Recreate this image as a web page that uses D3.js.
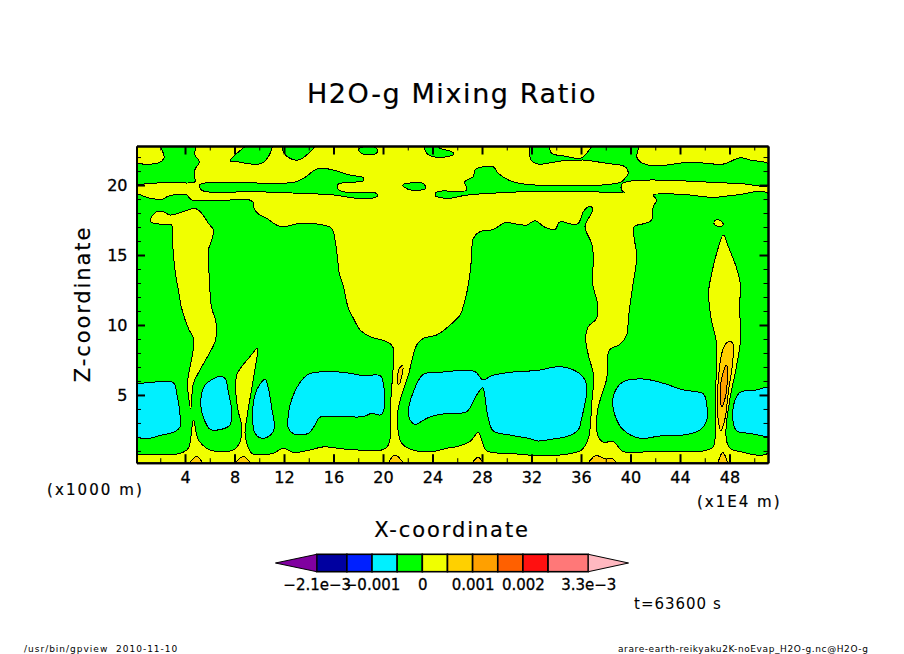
<!DOCTYPE html>
<html>
<head>
<meta charset="utf-8">
<title>H2O-g Mixing Ratio</title>
<script src="https://cdn.jsdelivr.net/npm/d3@7"></script>
<style>
body { margin: 0; background: #fff; }
svg { display: block; }
text { font-family: "DejaVu Sans", sans-serif; fill: #000; }
</style>
</head>
<body>
<script>
var w = 904;
var h = 654;

// contour levels of the colour bar and the colour of each band
var levels = [-2.1e-3, -1.5e-3, -1e-3, -5e-4, 0, 5e-4, 1e-3, 1.5e-3, 2e-3, 2.5e-3, 3.3e-3];
var bandColors = ["#8000a0", "#0000a0", "#0020ff", "#00f0ff", "#00ff00", "#f0ff00", "#ffd000", "#ffa000", "#ff6000", "#ff1010", "#ff7878", "#ffb8c0"];
var legendTips = [-2.92e-3, 4.1e-3];
var legendTicks = [-2.1e-3, -1e-3, 0, 1e-3, 2e-3, 3.3e-3];
var legendLabels = ["\u22122.1e\u22123", "\u22120.001", "0", "0.001", "0.002", "3.3e\u22123"];

var xDomain = [0.08, 51.11];
var zDomain = [0.16, 22.79];
var xMajor = [4, 8, 12, 16, 20, 24, 28, 32, 36, 40, 44, 48];
var xMinor = [2, 6, 10, 14, 18, 22, 26, 30, 34, 38, 42, 46, 50];
var zMajor = [5, 10, 15, 20];
var zMinor = [1, 2, 3, 4, 6, 7, 8, 9, 11, 12, 13, 14, 16, 17, 18, 19, 21, 22];

// band values
var yellowValue = 2.5e-4;
var greenValue = -2.5e-4;
var cyanValue = -7.5e-4;
var goldValue = 7.5e-4;
var orangeValue = 1.25e-3;

// contours as [x, z]
var greenTopLeft = [[1.98,23],[2.25,22.26],[2.3,21.9],[1.85,21.59],[0.9,21.48],[-0.2,21.48],[-0.2,20.07],[0.9,20.1],[2.65,20.19],[4.81,20.24],[4.73,20.71],[4.81,21.12],[5.16,21.67],[4.81,22.14],[4.76,23]];
var greenLeft = [[-0.2,19.28],[1.17,19.05],[2.12,18.98],[2.65,19.21],[3.6,19.33],[4.14,19.29],[4.54,18.93],[5.48,18.93],[7.64,18.93],[8.98,18.98],[9.47,18.81],[9.58,18.33],[9.93,17.93],[10.6,17.62],[11.41,17.14],[11.95,17.02],[13.3,17.26],[14.91,17.19],[15.86,16.9],[16.12,16.07],[16.31,14.88],[16.47,13.69],[16.8,12.74],[17.2,11.19],[17.61,10.48],[18.15,9.64],[18.95,9.17],[20.3,8.81],[20.79,8.45],[20.84,7.38],[20.7,5.48],[20.57,3.81],[20.57,1.9],[20.35,1.31],[19.9,1.07],[18.41,1.05],[16.8,1.14],[15.18,1.29],[14.1,1.07],[12.76,0.9],[11.95,1.19],[11.14,0.83],[10.2,0.71],[9.39,0.83],[9.04,1.43],[8.85,2.26],[8.99,3.33],[9.66,6.9],[9.85,8.33],[9.25,7.74],[8.58,7.02],[8.18,6.43],[8.12,5],[8.31,3.81],[8.58,2.74],[8.45,1.67],[7.91,1.07],[6.29,1],[5.75,1.19],[5.08,1.79],[4.68,3.21],[4.46,1.9],[4.27,1.19],[3.6,0.83],[1.17,0.76],[-0.2,0.95]];
var greenMiddle = [[26.44,11.19],[26.76,12.26],[27.03,13.69],[27.16,14.88],[27.3,16.19],[27.84,16.67],[28.91,16.83],[29.86,17.31],[30.93,17.19],[31.61,17.14],[32.28,17.45],[33.09,16.98],[33.9,16.83],[34.3,17.38],[35.24,17.21],[35.78,17.26],[36.19,18.1],[36.73,18.5],[36.94,18.21],[36.32,17.02],[36.86,15.83],[37,14.88],[36.94,12.98],[37.27,11.78],[37.35,11.43],[37.27,10.48],[36.59,9.88],[36.38,9.05],[36.59,7.86],[37,6.43],[36.86,4.29],[36.73,2.62],[36.59,1.9],[36.05,1.07],[34.3,0.71],[32.41,0.67],[30.26,0.83],[28.37,1.02],[27.7,2.31],[27.03,1.67],[25.95,1.31],[25.15,1.19],[23.94,0.95],[22.46,1.05],[21.51,1.55],[21.19,2.62],[21.19,3.81],[21.51,5],[22.05,6.43],[22.72,8.57],[23.26,9.05],[24.34,9.29],[25.42,10],[26.23,10.71]];
var greenRight = [[39.96,11.43],[40.17,12.74],[40.5,14.88],[40.28,16.31],[40.28,17.02],[41.17,17.26],[41.71,17.5],[41.84,18.45],[42.11,18.93],[41.84,19.28],[44.27,19.33],[46.69,19.12],[48.58,19.29],[51.3,19.29],[51.3,0.95],[48.85,0.95],[48.04,1.19],[47.77,1.67],[47.72,2.62],[48.04,4.76],[48.53,6.91],[48.9,9.05],[48.8,11.43],[48.9,12.74],[48.58,14.04],[47.91,15.59],[47.5,16.43],[46.96,15.12],[46.56,13.69],[46.29,12.26],[46.37,11.43],[46.56,10.24],[46.91,8.93],[46.96,7.38],[46.83,4.29],[46.83,1.9],[46.69,1.31],[46.02,1.02],[44.27,0.95],[41.58,0.95],[39.42,0.95],[38.61,1.67],[37.81,1.62],[37.4,2.02],[37.32,3.81],[38.08,6.19],[38.29,8.21],[39.15,8.62],[39.69,9.29],[39.83,10.48]];
var greenBand = [[5.16,20],[5.75,20.17],[7.64,20.19],[12.76,20.19],[13.57,20.48],[14.78,21.19],[16,21.07],[17.34,20.71],[18.41,20.52],[18.41,20.31],[16.39,20.07],[16.31,19.76],[16.8,19.52],[19.49,19.4],[19.55,19.21],[19.09,19.05],[17.88,19.05],[16,19.29],[13.57,19.4],[12.08,19.45],[9.79,19.52],[5.75,19.52],[5.35,19.64]];
var greenTop1 = [[7.64,21.74],[8.18,22.26],[9.39,23],[11.01,23],[10.74,22.02],[10.2,21.55],[9.39,21.5],[8.18,21.67]];
var greenTop2 = [[11.9,23],[11.95,22.38],[12.49,21.9],[13.16,21.79],[13.97,22.26],[14.59,23]];
var greenTop3 = [[18.01,22.5],[18.41,22.74],[19.22,22.74],[19.57,22.5],[19.36,22.21],[18.41,22.21]];
var greenTop4 = [[23.35,23],[23.53,22.26],[24.07,22.02],[25.15,22.02],[25.74,22.21],[25.55,22.38],[24.61,22.62],[23.94,23]];
var greenSpot = [[21.59,20],[22.46,20.17],[23.26,20.12],[23.45,19.76],[22.99,19.64],[22.05,19.69]];
var greenTopRight = [[24.26,19.45],[24.74,19.57],[25.41,19.57],[26.76,19.64],[26.62,20.24],[27.3,20.6],[27.43,21.07],[28.1,21.31],[28.91,21.31],[29.32,20.83],[30.66,20.19],[39.15,20.19],[39.55,20.48],[39.82,20.83],[39.55,21.31],[38.07,21.55],[36.13,21.79],[35.78,21.74],[34.57,21.74],[33.49,21.59],[32.55,21.5],[31.96,21.79],[31.96,23],[33.22,23],[33.63,22.26],[34.57,22.09],[35.78,21.9],[36.19,22.02],[37.26,23],[40.63,23],[40.5,22.02],[40.77,21.67],[41.44,21.43],[42.92,21.43],[44.27,21.59],[45.62,21.59],[47.5,21.5],[48.85,21.95],[49.66,21.79],[51.3,21.43],[51.3,20.04],[48.58,20.12],[39.37,20.12],[39.28,19.64],[39.55,19.45],[38.88,19.47],[36.73,19.52],[32.95,19.57],[29.99,19.47],[26.76,19.28],[25.41,19.05],[25.15,19.05],[24.26,19.21]];

var yellowTongue = [[1.31,17.74],[1.71,18.1],[2.25,18.1],[2.79,17.86],[3.87,18.1],[4.81,18.33],[5.35,17.98],[5.89,17.26],[6.29,16.79],[6.16,16.07],[5.89,15.36],[5.94,13.69],[6.16,11.19],[6.43,10.48],[6.56,9.64],[6.43,8.81],[5.89,7.86],[5.22,6.79],[4.68,5.83],[4.46,4],[4.27,5],[4.19,5.83],[4.41,7.02],[4.68,8.33],[4.68,9.05],[4.27,9.76],[3.73,11.19],[3.46,12.5],[3.19,13.93],[3,15.83],[2.92,17.14],[2.25,17.21],[1.44,17.26],[1.17,17.5]];
var yellowSpot = [[46.75,17.38],[47.05,17.54],[47.5,17.21],[47.29,17.02],[46.83,17.14]];

var cyan1 = [[-0.2,5.6],[1.17,5.88],[3.06,5.88],[3.33,5.12],[3.6,3.57],[3.6,2.74],[3.19,2.38],[1.98,2.1],[1.04,1.9],[-0.2,2.14]];
var cyan2 = [[5.27,4.64],[5.62,5.71],[6.83,6.33],[7.23,6.19],[7.5,5.24],[7.77,3.81],[7.64,2.86],[6.96,2.55],[6.02,2.55],[5.62,3.1],[5.35,3.81]];
var cyan3 = [[9.47,4.05],[9.79,5.36],[10.47,6.12],[10.74,5.48],[11.01,4.05],[11.22,2.62],[10.87,2.1],[10.2,1.9],[9.66,2.26],[9.47,3.1]];
var cyan4 = [[12.3,3.1],[12.49,4.29],[13.16,5.71],[13.97,6.48],[15.72,6.67],[17.34,6.55],[18.41,6.38],[19.76,6.38],[20.03,5.83],[20.03,3.81],[19.76,3.57],[19.09,3.69],[18.41,3.45],[16.8,3.45],[14.91,3.41],[14.51,2.86],[13.97,2.26],[12.89,2.19],[12.35,2.62]];
var cyan5 = [[22.05,3.81],[22.46,5.24],[23.26,6.48],[24.61,6.62],[26.23,6.74],[27.43,6.67],[28.1,6.07],[28.78,6.38],[30.8,6.67],[32.41,6.74],[34.3,7.02],[35.65,6.67],[36.32,6.07],[36.46,5.24],[36.05,3.33],[35.78,2.5],[34.84,2.02],[33.76,1.86],[32.55,1.71],[31.75,1.9],[30.26,2.14],[28.91,2.43],[28.51,3.33],[28.1,5.48],[28.03,5.52],[27.57,5],[26.76,3.81],[25.41,3.69],[24.34,3.57],[23.53,3.33],[22.59,2.9],[22.19,3.21]];
var cyan6 = [[38.56,4.52],[38.88,5.48],[39.42,5.95],[41.04,6.14],[42.66,5.83],[44.27,5.36],[45.89,5.07],[46.16,4.29],[46.21,3.33],[45.62,2.5],[44.27,2.14],[42.38,2.07],[40.77,1.9],[39.42,2.5],[38.88,3.22]];
var cyan7 = [[48.26,3.81],[48.45,4.64],[48.85,5.19],[50.2,5.36],[51.3,5.52],[51.3,2.14],[49.66,2.26],[48.58,2.43],[48.26,3.22]];

var gold1 = [[47.05,5.48],[47.5,8.33],[47.91,8.81],[48.26,8.69],[48.26,7.38],[47.91,5.24],[47.64,3.33],[47.31,2.45],[47.1,3.1]];
var goldThin = [[21.19,5.83],[21.32,6.9],[21.59,7.09],[21.51,6.31],[21.29,5.76]];
var goldFoot1 = [[4.35,0],[4.94,0.6],[5.43,0]];
var goldFoot2 = [[7.99,0],[8.72,0.6],[9.31,0]];
var goldFoot3 = [[20.43,0],[20.97,0.71],[21.65,0]];
var goldFoot4 = [[27.16,0],[27.7,0.55],[28.1,0]];
var goldFoot5 = [[36.59,0],[37.19,0.67],[37.94,0.43],[38.61,0.41],[38.88,0]];
var goldFoot6 = [[47.1,0],[47.45,0.88],[47.83,0]];
var orange1 = [[47.24,5.24],[47.5,6.67],[47.77,7.14],[47.83,6.31],[47.64,4.76],[47.37,4.17]];

var contourLayers = [
	{ value: greenValue, areas: [greenTopLeft, greenLeft, greenMiddle, greenRight, greenBand, greenTop1, greenTop2, greenTop3, greenTop4, greenSpot, greenTopRight] },
	{ value: yellowValue, areas: [yellowTongue, yellowSpot] },
	{ value: cyanValue, areas: [cyan1, cyan2, cyan3, cyan4, cyan5, cyan6, cyan7] },
	{ value: goldValue, areas: [gold1, goldThin, goldFoot1, goldFoot2, goldFoot3, goldFoot4, goldFoot5, goldFoot6] },
	{ value: orangeValue, areas: [orange1] }
];

var svg = d3.select("body").append("svg")
	.attr("width", w)
	.attr("height", h);

var xScale = d3.scaleLinear().domain(xDomain).range([136.5, 768]);
var zScale = d3.scaleLinear().domain(zDomain).range([462.7, 146]);
var band = d3.scaleThreshold().domain(levels).range(bandColors);

svg.append("defs").append("clipPath").attr("id", "plot")
	.append("rect")
	.attr("x", xScale(xDomain[0]))
	.attr("y", zScale(zDomain[1]))
	.attr("width", xScale(xDomain[1]) - xScale(xDomain[0]))
	.attr("height", zScale(zDomain[0]) - zScale(zDomain[1]));

var plot = svg.append("g").attr("clip-path", "url(#plot)");

plot.append("rect")
	.attr("x", xScale(xDomain[0]))
	.attr("y", zScale(zDomain[1]))
	.attr("width", xScale(xDomain[1]) - xScale(xDomain[0]))
	.attr("height", zScale(zDomain[0]) - zScale(zDomain[1]))
	.attr("fill", band(yellowValue));

var line = d3.line()
	.x(function(d) { return xScale(d[0]); })
	.y(function(d) { return zScale(d[1]); })
	.curve(d3.curveCatmullRomClosed.alpha(0.5));

contourLayers.forEach(function(layer) {
	plot.append("g").selectAll("path")
		.data(layer.areas)
		.enter().append("path")
		.attr("d", line)
		.attr("fill", band(layer.value))
		.attr("stroke", "#000")
		.attr("stroke-width", 1)
		.attr("shape-rendering", "crispEdges");
});

// frame and inward ticks on all four sides
function drawAxis(axis, values, size, sw, tx, ty, labels) {
	var g = svg.append("g")
		.attr("transform", "translate(" + tx + "," + ty + ")")
		.call(axis.tickValues(values).tickSize(-size).tickSizeOuter(0)
			.tickFormat(labels ? function(d) { return d; } : function() { return ""; }));
	g.select(".domain").attr("stroke", "#000").attr("stroke-width", 2);
	g.selectAll("line").attr("stroke", "#000").attr("stroke-width", sw);
	g.selectAll("text").attr("font-size", 16).attr("stroke", "#000").attr("stroke-width", 0.3);
	return g;
}
var x0 = xScale(xDomain[0]), x1 = xScale(xDomain[1]);
var y0 = zScale(zDomain[0]), y1 = zScale(zDomain[1]);

drawAxis(d3.axisBottom(xScale), xMinor, 4.5, 1, 0, y0, false);
drawAxis(d3.axisBottom(xScale), xMajor, 8.5, 2, 0, y0, true).selectAll("text").attr("y", 9);
drawAxis(d3.axisTop(xScale), xMinor, 4.5, 1, 0, y1, false);
drawAxis(d3.axisTop(xScale), xMajor, 8.5, 2, 0, y1, false);
drawAxis(d3.axisLeft(zScale), zMinor, 4.5, 1, x0, 0, false);
drawAxis(d3.axisLeft(zScale), zMajor, 8.5, 2, x0, 0, true).selectAll("text").attr("x", -9);
drawAxis(d3.axisRight(zScale), zMinor, 4.5, 1, x1, 0, false);
drawAxis(d3.axisRight(zScale), zMajor, 8.5, 2, x1, 0, false);

function label(text, x, y, size, anchor, spacing, weight) {
	return svg.append("text")
		.attr("x", x)
		.attr("y", y)
		.attr("font-size", size)
		.attr("text-anchor", anchor)
		.attr("letter-spacing", spacing)
		.attr("stroke", "#000")
		.attr("stroke-width", weight)
		.text(text);
}

label("H2O-g Mixing Ratio", 452, 103, 27, "middle", 1.6, 0.2);
label("X-coordinate", 452, 537, 21, "middle", 1.9, 0.2);
label("Z-coordinate", 0, 0, 21, "middle", 1.9, 0.2)
	.attr("transform", "translate(90,304) rotate(-90)");
label("(x1000 m)", 47, 495, 15, "start", 2.1, 0.2);
label("(x1E4 m)", 697, 507, 15, "start", 2, 0.2);
label("t=63600 s", 634, 609, 15, "start", 1, 0);
label("/usr/bin/gpview  2010-11-10", 24, 652, 9, "start", 1, 0).attr("xml:space", "preserve");
label("arare-earth-reikyaku2K-noEvap_H2O-g.nc@H2O-g", 618, 652, 9, "start", 0.6, 0);

// colour bar
var legendX = d3.scaleLinear().domain([levels[0], levels[levels.length - 1]]).range([316.7, 588.3]);
var legendY = d3.scaleLinear().domain([0, 1]).range([571.7, 554.3]);
var legend = svg.append("g");

legend.selectAll("rect")
	.data(levels.slice(0, -1))
	.enter().append("rect")
	.attr("x", function(d) { return legendX(d); })
	.attr("y", legendY(1))
	.attr("width", function(d, i) { return legendX(levels[i + 1]) - legendX(d); })
	.attr("height", legendY(0) - legendY(1))
	.attr("fill", function(d) { return band(d); })
	.attr("stroke", "#000")
	.attr("stroke-width", 1.6);

legend.selectAll("polygon")
	.data([[legendTips[0], levels[0], bandColors[0]], [legendTips[1], levels[levels.length - 1], bandColors[bandColors.length - 1]]])
	.enter().append("polygon")
	.attr("points", function(d) {
		return [[legendX(d[0]), legendY(0.5)], [legendX(d[1]), legendY(1)], [legendX(d[1]), legendY(0)]].join(" ");
	})
	.attr("fill", function(d) { return d[2]; })
	.attr("stroke", "#000")
	.attr("stroke-width", 1);

var legendAxis = svg.append("g")
	.attr("transform", "translate(0," + legendY(0) + ")")
	.call(d3.axisBottom(legendX).tickValues(legendTicks).tickSize(0)
		.tickFormat(function(d, i) { return legendLabels[i]; }));
legendAxis.select(".domain").remove();
legendAxis.selectAll("text")
	.attr("y", 8)
	.attr("font-size", 15)
	.attr("stroke", "#000")
	.attr("stroke-width", 0.3);
</script>
</body>
</html>
